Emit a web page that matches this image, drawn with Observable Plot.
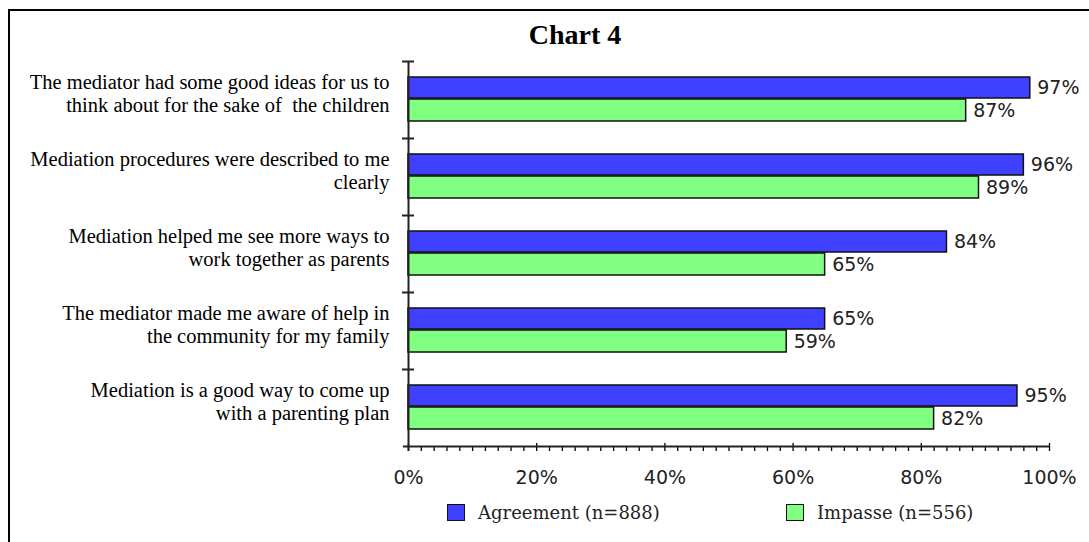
<!DOCTYPE html>
<html><head><meta charset="utf-8">
<script src="https://cdn.jsdelivr.net/npm/d3@7"></script>
<script src="https://cdn.jsdelivr.net/npm/@observablehq/plot@0.6"></script>
<style>
body{margin:0;background:#fff;}
#wrap{position:relative;width:1089px;height:542px;overflow:hidden;background:#fff;}
#frame{position:absolute;left:8px;top:9px;width:1200px;height:700px;border-left:2px solid #000;border-top:2px solid #000;}
#title{position:absolute;left:475px;width:200px;top:19px;text-align:center;font:bold 28px "Liberation Serif",serif;color:#000;}
#chart{position:absolute;left:0;top:0;}
.leg{position:absolute;top:503px;height:18px;display:flex;align-items:center;font:18px "DejaVu Serif",serif;color:#222;white-space:nowrap;}
.sw{width:16px;height:15px;border:1.5px solid #111;margin-right:13px;flex:none;}
</style></head>
<body>
<div id="wrap">
  <div id="frame"></div>
  <div id="chart"></div>
  <div id="title">Chart 4</div>
</div>
<script>
const categories = [
  "The mediator had some good ideas for us to\nthink about for the sake of  the children",
  "Mediation procedures were described to me\nclearly",
  "Mediation helped me see more ways to\nwork together as parents",
  "The mediator made me aware of help in\nthe community for my family",
  "Mediation is a good way to come up\nwith a parenting plan"
];
const agreement = [97, 96, 84, 65, 95];
const impasse = [87, 89, 65, 59, 82];
const seriesNames = ["Agreement (n=888)", "Impasse (n=556)"];
const seriesColors = ["#4040ff", "#80ff80"];
const xTicks = [0, 20, 40, 60, 80, 100];
const xMinorTicks = d3.range(0, 101, 2);

const rowsA = categories.map((c, i) => ({category: c, series: seriesNames[0], value: agreement[i]}));
const rowsI = categories.map((c, i) => ({category: c, series: seriesNames[1], value: impasse[i]}));

const W = 1089, H = 542;
const fontNum = "DejaVu Sans, sans-serif";
const chart = Plot.plot({
  width: W, height: H,
  marginLeft: 408, marginRight: 40, marginTop: 61, marginBottom: 96,
  style: {background: "transparent", overflow: "visible"},
  x: {domain: [0, 100], axis: null},
  y: {domain: categories, padding: 0, axis: null, label: null},
  marks: [
    Plot.barX(rowsA, {x: "value", y: "category", fill: seriesColors[0], stroke: "#111", strokeWidth: 1.5, insetTop: 16, insetBottom: 40}),
    Plot.barX(rowsI, {x: "value", y: "category", fill: seriesColors[1], stroke: "#111", strokeWidth: 1.5, insetTop: 38, insetBottom: 17}),
    Plot.text(rowsA, {x: "value", y: "category", text: d => d.value + "%", dx: 7, dy: -12, textAnchor: "start", fontSize: 19, fontFamily: fontNum, fill: "#222"}),
    Plot.text(rowsI, {x: "value", y: "category", text: d => d.value + "%", dx: 7, dy: 11, textAnchor: "start", fontSize: 19, fontFamily: fontNum, fill: "#222"}),
    // y axis labels
    Plot.axisY({anchor: "left", tickSize: 0, tickPadding: 19, fontSize: 20.5, fontFamily: "Liberation Serif, serif", lineHeight: 1.12, dy: -7, fill: "#000", label: null}),
    // y axis boundary ticks (crossing)
    Plot.axisY({anchor: "left", tickSize: 6, dy: -38.5, tickFormat: () => "", stroke: "#222", strokeWidth: 2, label: null}),
    Plot.axisY({anchor: "left", tickSize: -6, dy: -38.5, tickFormat: () => "", stroke: "#222", strokeWidth: 2, label: null}),
    // x axis
    Plot.axisX({anchor: "bottom", ticks: xMinorTicks, tickSize: 5, tickFormat: () => "", stroke: "#000", strokeWidth: 1.3, label: null}),
    Plot.axisX({anchor: "bottom", ticks: xTicks, tickSize: -3, tickFormat: () => "", stroke: "#000", strokeWidth: 1.3, label: null}),
    Plot.axisX({anchor: "bottom", ticks: xTicks, tickSize: 0, tickPadding: 24, tickFormat: d => d + "%", fontSize: 19, fontFamily: fontNum, fill: "#222", label: null}),
    Plot.ruleY([categories[categories.length - 1]], {dy: 38.5, x1: -0.8, x2: 100, stroke: "#222", strokeWidth: 2}),
    Plot.ruleX([0], {stroke: "#222", strokeWidth: 2, insetBottom: -5})
  ]
});
document.getElementById("chart").appendChild(chart);

// legend
const legendLeft = [447, 786];
const wrap = document.getElementById("wrap");
seriesNames.forEach((name, i) => {
  const d = document.createElement("div");
  d.className = "leg";
  d.style.left = legendLeft[i] + "px";
  const sw = document.createElement("span");
  sw.className = "sw";
  sw.style.background = seriesColors[i];
  const t = document.createElement("span");
  t.textContent = name;
  d.appendChild(sw); d.appendChild(t);
  wrap.appendChild(d);
});
</script>
</body></html>
